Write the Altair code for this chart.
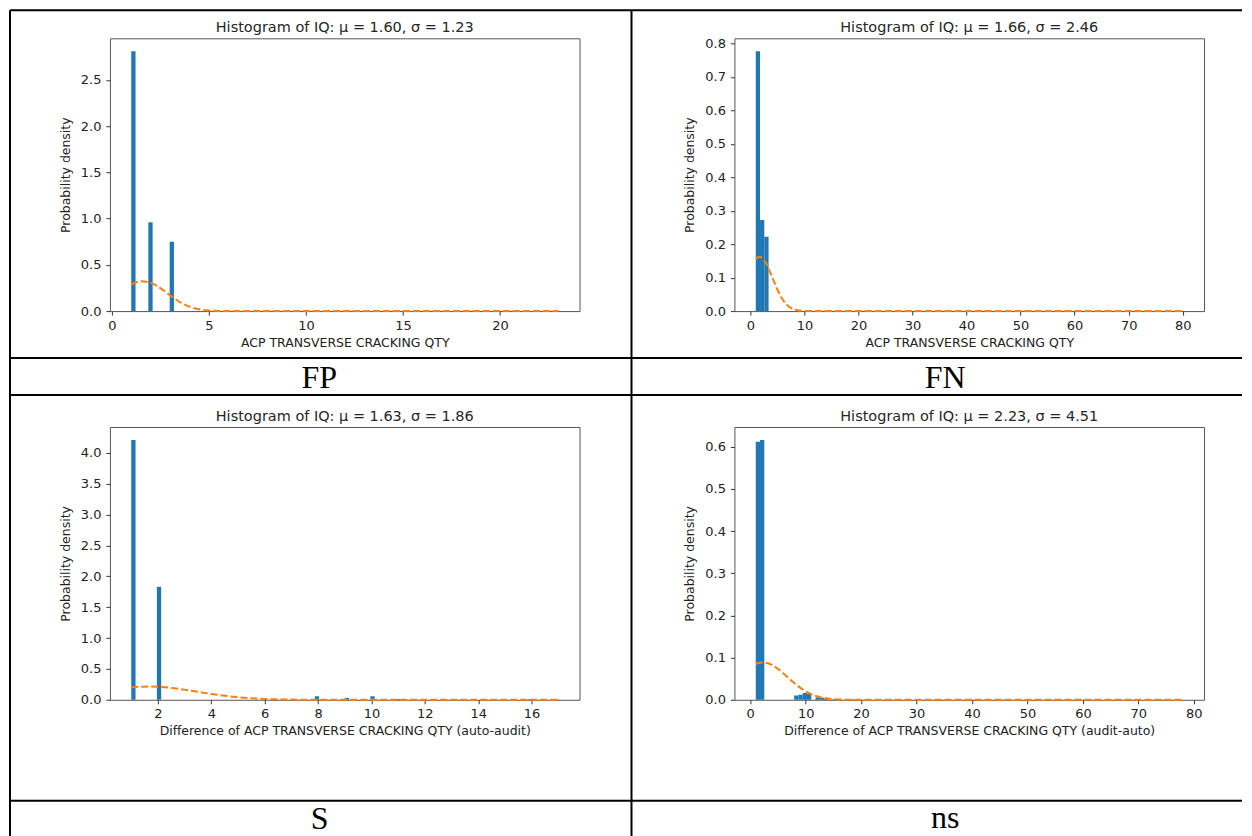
import altair as alt
import pandas as pd

# ---------------- values ----------------
panel_labels = ["FP", "FN", "S", "ns"]
panel_titles = [
    "Histogram of IQ: μ = 1.60, σ = 1.23",
    "Histogram of IQ: μ = 1.66, σ = 2.46",
    "Histogram of IQ: μ = 1.63, σ = 1.86",
    "Histogram of IQ: μ = 2.23, σ = 4.51",
]
x_titles = [
    "ACP TRANSVERSE CRACKING QTY",
    "ACP TRANSVERSE CRACKING QTY",
    "Difference of ACP TRANSVERSE CRACKING QTY (auto-audit)",
    "Difference of ACP TRANSVERSE CRACKING QTY (audit-auto)",
]
y_title = "Probability density"

# FP
fp_bin_start = [1.00, 1.88, 2.98]
fp_bin_end = [1.22, 2.10, 3.20]
fp_density = [2.81, 0.96, 0.75]
fp_curve_x = [1.0, 1.5, 2.0, 2.5, 3.0, 3.5, 4.0, 4.5, 5.0, 5.5, 6.0, 7.0, 23.0]
fp_curve_y = [0.288, 0.322, 0.307, 0.248, 0.170, 0.098, 0.048, 0.020, 0.007, 0.002, 0.0005, 0.0, 0.0]
fp_x_domain = [-0.1, 24.1]
fp_y_domain = [0.0, 2.95]
fp_x_ticks = [0, 5, 10, 15, 20]
fp_y_ticks = [0.0, 0.5, 1.0, 1.5, 2.0, 2.5]

# FN
fn_bin_start = [1.00, 1.79, 2.58]
fn_bin_end = [1.79, 2.58, 3.37]
fn_density = [0.776, 0.272, 0.222]
fn_curve_x = [1.0, 1.7, 2.5, 3.0, 4.0, 5.0, 6.0, 7.0, 8.0, 9.0, 10.0, 80.0]
fn_curve_y = [0.156, 0.162, 0.153, 0.140, 0.103, 0.0645, 0.034, 0.015, 0.006, 0.002, 0.0005, 0.0]
fn_x_domain = [-2.95, 83.95]
fn_y_domain = [0.0, 0.815]
fn_x_ticks = [0, 10, 20, 30, 40, 50, 60, 70, 80]
fn_y_ticks = [0.0, 0.1, 0.2, 0.3, 0.4, 0.5, 0.6, 0.7, 0.8]

# S
s_bin_start = [1.00, 1.96, 7.88, 9.00, 9.96, 10.92, 15.88, 16.84]
s_bin_end = [1.16, 2.12, 8.04, 9.16, 10.12, 11.08, 16.04, 17.00]
s_density = [4.21, 1.83, 0.057, 0.03, 0.057, 0.01, 0.01, 0.008]
s_curve_x = [1.0, 1.6, 2.0, 2.5, 3.0, 3.5, 4.0, 5.0, 6.0, 7.0, 8.0, 17.0]
s_curve_y = [0.2025, 0.2145, 0.210, 0.192, 0.1635, 0.129, 0.095, 0.0415, 0.0135, 0.0033, 0.0006, 0.0]
s_x_domain = [0.2, 17.8]
s_y_domain = [0.0, 4.42]
s_x_ticks = [2, 4, 6, 8, 10, 12, 14, 16]
s_y_ticks = [0.0, 0.5, 1.0, 1.5, 2.0, 2.5, 3.0, 3.5, 4.0]

# ns
ns_bin_start = [1.00, 1.77, 7.93, 8.70, 9.47, 10.24, 11.78, 12.55, 13.32, 14.86, 15.63, 17.94]
ns_bin_end = [1.77, 2.54, 8.70, 9.47, 10.24, 11.01, 12.55, 13.32, 14.09, 15.63, 16.40, 18.71]
ns_density = [0.612, 0.616, 0.010, 0.012, 0.016, 0.014, 0.006, 0.005, 0.003, 0.002, 0.002, 0.001]
ns_curve_x = [1.0, 2.2, 3.0, 4.0, 5.0, 6.0, 8.0, 10.0, 12.0, 14.0, 16.0, 18.0, 78.0]
ns_curve_y = [0.0853, 0.0885, 0.0872, 0.0819, 0.0733, 0.0624, 0.039, 0.020, 0.0085, 0.0029, 0.0008, 0.0002, 0.0]
ns_x_domain = [-2.85, 81.85]
ns_y_domain = [0.0, 0.647]
ns_x_ticks = [0, 10, 20, 30, 40, 50, 60, 70, 80]
ns_y_ticks = [0.0, 0.1, 0.2, 0.3, 0.4, 0.5, 0.6]

# ---------------- layout / style ----------------
W, H = 470, 273
FONT = "DejaVu Sans"
BAR = "#1f77b4"
CURVE = "#ff7f0e"
one = pd.DataFrame({"k": [0]})


def rule(**enc):
    return alt.Chart(one).mark_rule(color="black", strokeWidth=2).encode(
        **{k: alt.value(v) for k, v in enc.items()}
    )


# table grid lines (pixel offsets relative to the first panel's plot area)
L, T, R, B, D = -100, -28, 1133, 799, 522
table_lines = [
    rule(x=L, y=T, y2=B),
    rule(x=D, y=T, y2=B),
    rule(x=L, x2=R, y=T),
    rule(x=L, x2=R, y=320),
    rule(x=L, x2=R, y=357),
    rule(x=L, x2=R, y=763),
]

label_pos = [(209.5, 350), (211, 350), (210, 402), (211, 401)]


def panel(i, bs, be, dens, cx, cy, xdom, ydom, xt, yt, extra=()):
    bars_df = pd.DataFrame({"start": bs, "end": be, "density": dens})
    curve_df = pd.DataFrame({"start": cx, "density": cy})
    xs = alt.Scale(domain=xdom, nice=False, zero=False)
    ys = alt.Scale(domain=ydom, nice=False, zero=False)
    xax = alt.Axis(values=xt, format="d", title=x_titles[i], titleFontSize=12.5,
                   titlePadding=4, labelPadding=4)
    yax = alt.Axis(values=yt, format=".1f", title=y_title, titleFontSize=12.5,
                   titlePadding=8, labelPadding=5)
    bars = alt.Chart(bars_df).mark_rect(color=BAR).encode(
        x=alt.X("start:Q", scale=xs, axis=xax),
        x2="end:Q",
        y=alt.Y("density:Q", scale=ys, axis=yax),
        y2=alt.datum(0),
    )
    curve = alt.Chart(curve_df).mark_line(
        color=CURVE, strokeDash=[7, 3], strokeWidth=2, interpolate="monotone"
    ).encode(
        x=alt.X("start:Q", scale=xs, axis=xax),
        y=alt.Y("density:Q", scale=ys, axis=yax),
    )
    title = alt.Chart(pd.DataFrame({"t": [panel_titles[i]]})).mark_text(
        font=FONT, fontSize=14.5, color="#262626", align="center", baseline="alphabetic"
    ).encode(text="t:N", x=alt.value(W / 2), y=alt.value(-6))
    lx, ly = label_pos[i]
    label = alt.Chart(pd.DataFrame({"t": [panel_labels[i]]})).mark_text(
        font="Liberation Serif", fontSize=32, color="black", align="center",
        baseline="alphabetic"
    ).encode(text="t:N", x=alt.value(lx), y=alt.value(ly))
    return alt.layer(bars, curve, title, label, *extra).properties(width=W, height=H)


p_fp = panel(0, fp_bin_start, fp_bin_end, fp_density, fp_curve_x, fp_curve_y,
             fp_x_domain, fp_y_domain, fp_x_ticks, fp_y_ticks, table_lines)
p_fn = panel(1, fn_bin_start, fn_bin_end, fn_density, fn_curve_x, fn_curve_y,
             fn_x_domain, fn_y_domain, fn_x_ticks, fn_y_ticks)
p_s = panel(2, s_bin_start, s_bin_end, s_density, s_curve_x, s_curve_y,
            s_x_domain, s_y_domain, s_x_ticks, s_y_ticks)
p_ns = panel(3, ns_bin_start, ns_bin_end, ns_density, ns_curve_x, ns_curve_y,
             ns_x_domain, ns_y_domain, ns_x_ticks, ns_y_ticks)

chart = alt.concat(
    p_fp, p_fn, p_s, p_ns, columns=2,
    spacing={"row": 116, "column": 155}, bounds="flush",
).properties(
    padding=0, background="white"
).configure_view(
    stroke="#555", strokeWidth=1
).configure_axis(
    domain=False, grid=False, tickColor="#333", tickSize=4, tickWidth=1,
    labelFont=FONT, labelFontSize=13, labelColor="#222",
    titleFont=FONT, titleFontWeight="normal", titleColor="#222",
)

chart.save("out.html", embed_options={"renderer": "svg", "actions": False})
